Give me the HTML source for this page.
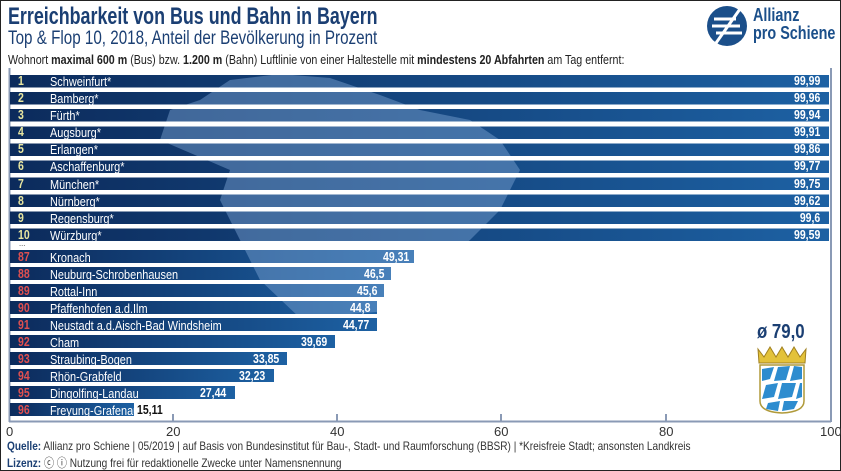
<!DOCTYPE html>
<html><head><meta charset="utf-8"><style>
body{margin:0;width:841px;height:471px;overflow:hidden;background:#fff;font-family:"Liberation Sans",sans-serif;}
.f{position:absolute;left:0;top:0;width:839px;height:469px;border:1px solid #222;}
.t{position:absolute;white-space:nowrap;transform:scaleX(.84);transform-origin:left center;}
</style></head><body><div class="f"></div>
<div class="t" style="left:8px;top:3px;font-size:24px;font-weight:bold;color:#1b3f73;transform:scaleX(.745)">Erreichbarkeit von Bus und Bahn in Bayern</div>
<div class="t" style="left:8px;top:28px;font-size:19px;color:#1b3f73;transform:scaleX(.80)">Top &amp; Flop 10, 2018, Anteil der Bevölkerung in Prozent</div>
<div class="t" style="left:8px;top:53px;font-size:12.5px;color:#222;transform:scaleX(.855)">Wohnort <b>maximal 600 m</b> (Bus) bzw. <b>1.200 m</b> (Bahn) Luftlinie von einer Haltestelle mit <b>mindestens 20 Abfahrten</b> am Tag entfernt:</div>
<svg style="position:absolute;left:706px;top:5px" width="42" height="42" viewBox="0 0 42 42"><circle cx="21" cy="21" r="20" fill="#1b4f8a"/><g stroke="#fff" stroke-width="3"><line x1="8" y1="14" x2="30" y2="14"/><line x1="6" y1="21" x2="34" y2="21"/><line x1="10" y1="28" x2="36" y2="28"/><line x1="10" y1="38" x2="34" y2="4"/></g></svg>
<div class="t" style="left:753px;top:6px;font-size:18px;font-weight:bold;color:#1b4f8a;line-height:18px;transform:scaleX(.8)">Allianz<br>pro Schiene</div>
<svg style="position:absolute;left:0;top:0" width="841" height="471">
<defs><linearGradient id="g" x1="0" x2="1"><stop offset="0" stop-color="#0c2b5c"/><stop offset="1" stop-color="#1d61a3"/></linearGradient>
<clipPath id="c">
<rect x="10" y="75" width="819" height="12.5"/><rect x="10" y="92" width="819" height="12.5"/><rect x="10" y="109" width="819" height="12.5"/><rect x="10" y="126.5" width="819" height="12.5"/><rect x="10" y="143.5" width="819" height="12.5"/><rect x="10" y="160.5" width="819" height="12.5"/><rect x="10" y="177.5" width="819" height="12.5"/><rect x="10" y="194.5" width="819" height="12.5"/><rect x="10" y="211.5" width="819" height="12.5"/><rect x="10" y="228.5" width="819" height="12.5"/>
<rect x="10" y="250" width="404" height="13"/><rect x="10" y="267" width="381" height="13"/><rect x="10" y="284" width="374" height="13"/><rect x="10" y="301" width="367" height="13"/><rect x="10" y="318" width="367" height="13"/></clipPath></defs>
<line x1="9.5" y1="68" x2="9.5" y2="422" stroke="#8a9ab5" stroke-width="2"/>
<line x1="831" y1="68" x2="831" y2="422" stroke="#8a9ab5" stroke-width="2"/>
<line x1="9" y1="421.5" x2="831" y2="421.5" stroke="#8a9ab5" stroke-width="2"/>
<g stroke="#8a9ab5" stroke-width="2"><line x1="173" y1="414" x2="173" y2="421"/><line x1="337" y1="414" x2="337" y2="421"/><line x1="501" y1="414" x2="501" y2="421"/><line x1="666" y1="414" x2="666" y2="421"/></g>
<g fill="url(#g)">
<rect x="10" y="75" width="819" height="12.5"/><rect x="10" y="92" width="819" height="12.5"/><rect x="10" y="109" width="819" height="12.5"/><rect x="10" y="126.5" width="819" height="12.5"/><rect x="10" y="143.5" width="819" height="12.5"/><rect x="10" y="160.5" width="819" height="12.5"/><rect x="10" y="177.5" width="819" height="12.5"/><rect x="10" y="194.5" width="819" height="12.5"/><rect x="10" y="211.5" width="819" height="12.5"/><rect x="10" y="228.5" width="819" height="12.5"/>
<rect x="10" y="250" width="404" height="13"/><rect x="10" y="267" width="381" height="13"/><rect x="10" y="284" width="374" height="13"/><rect x="10" y="301" width="367" height="13"/><rect x="10" y="318" width="367" height="13"/><rect x="10" y="335" width="325" height="13"/><rect x="10" y="352" width="277" height="13"/><rect x="10" y="369" width="264" height="13"/><rect x="10" y="386" width="225" height="13"/><rect x="10" y="403" width="124" height="13"/>
</g>
<path clip-path="url(#c)" d="M200 100 L230 80 L280 74 L330 78 L380 95 L420 110 L470 120 L500 140 L520 170 L500 210 L470 240 L430 270 L400 310 L300 318 L260 280 L240 240 L220 200 L230 170 L160 140 L170 110 Z" fill="#7ea6d4" opacity=".45"/>
</svg>
<div style="position:absolute;left:0;top:0;font-size:12.5px;color:#fff">
<div class="t" style="left:18px;top:73px;color:#e8e6a0;font-weight:bold;line-height:17.1px">1<br>2<br>3<br>4<br>5<br>6<br>7<br>8<br>9<br>10</div>
<div class="t" style="left:50px;top:73px;line-height:17.1px;font-size:13px">Schweinfurt*<br>Bamberg*<br>Fürth*<br>Augsburg*<br>Erlangen*<br>Aschaffenburg*<br>München*<br>Nürnberg*<br>Regensburg*<br>Würzburg*</div>
<div class="t" style="left:789px;top:73px;font-weight:bold;line-height:17.1px;text-align:right;transform-origin:right center">99,99<br>99,96<br>99,94<br>99,91<br>99,86<br>99,77<br>99,75<br>99,62<br>99,6<br>99,59</div>
<div class="t" style="left:19px;top:238px;color:#555;font-size:9px">...</div>
<div class="t" style="left:18px;top:248.5px;color:#e05050;font-weight:bold;line-height:17px">87<br>88<br>89<br>90<br>91<br>92<br>93<br>94<br>95<br>96</div>
<div class="t" style="left:50px;top:248.5px;line-height:17px;font-size:13px">Kronach<br>Neuburg-Schrobenhausen<br>Rottal-Inn<br>Pfaffenhofen a.d.Ilm<br>Neustadt a.d.Aisch-Bad Windsheim<br>Cham<br>Straubing-Bogen<br>Rhön-Grabfeld<br>Dingolfing-Landau<br>Freyung-Grafenau</div>
</div>
<div style="position:absolute;top:248.5px;font-size:12.5px;font-weight:bold;color:#fff;line-height:17px">
<div class="t" style="left:383px;top:0">49,31</div>
<div class="t" style="left:364px;top:17px">46,5</div>
<div class="t" style="left:357px;top:34px">45,6</div>
<div class="t" style="left:350px;top:51px">44,8</div>
<div class="t" style="left:343px;top:68px">44,77</div>
<div class="t" style="left:301px;top:85px">39,69</div>
<div class="t" style="left:253px;top:102px">33,85</div>
<div class="t" style="left:239px;top:119px">32,23</div>
<div class="t" style="left:200px;top:136px">27,44</div>
<div class="t" style="left:137px;top:153px;color:#111">15,11</div>
</div>
<div style="position:absolute;top:424px;font-size:13px;color:#333">
<span style="position:absolute;left:6px">0</span><span style="position:absolute;left:166px">20</span><span style="position:absolute;left:330px">40</span><span style="position:absolute;left:494px">60</span><span style="position:absolute;left:659px">80</span><span style="position:absolute;left:820px">100</span></div>
<div class="t" style="left:757px;top:321px;font-size:20px;font-weight:bold;color:#1b3f73">ø 79,0</div>
<svg style="position:absolute;left:756px;top:345px" width="52" height="70" viewBox="0 0 52 70">
<path d="M2 4 L8 12 L14 2 L20 12 L26 2 L32 12 L38 2 L44 12 L50 4 L49 18 L3 18 Z" fill="#e3c23a" stroke="#a08020"/>
<path d="M4 20 H48 V56 Q48 67 26 68 Q4 67 4 56 Z" fill="#fff" stroke="#b09a3a" stroke-width="1.5"/>
<g fill="#2d8ccf"><path d="M6 24 L18 22 L14 34 L6 36Z"/><path d="M22 22 L34 21 L30 35 L18 36Z"/><path d="M38 21 L46 22 L46 34 L34 36Z"/><path d="M10 40 L22 38 L18 52 L6 54Z"/><path d="M26 38 L40 38 L36 52 L22 54Z"/><path d="M44 38 L46 38 L46 52 L40 54Z"/><path d="M12 58 L24 56 L22 66 L10 64Z"/><path d="M28 56 L42 56 L38 64 L26 66Z"/></g>
</svg>
<div class="t" style="left:7px;top:439px;font-size:12px;color:#333"><b style="color:#1b3f73">Quelle:</b> Allianz pro Schiene | 05/2019 | auf Basis von Bundesinstitut für Bau-, Stadt- und Raumforschung (BBSR) | *Kreisfreie Stadt; ansonsten Landkreis</div>
<div class="t" style="left:7px;top:454px;font-size:12px;color:#333"><b style="color:#1b3f73">Lizenz:</b> ⓒ ⓘ Nutzung frei für redaktionelle Zwecke unter Namensnennung</div>
</body></html>
